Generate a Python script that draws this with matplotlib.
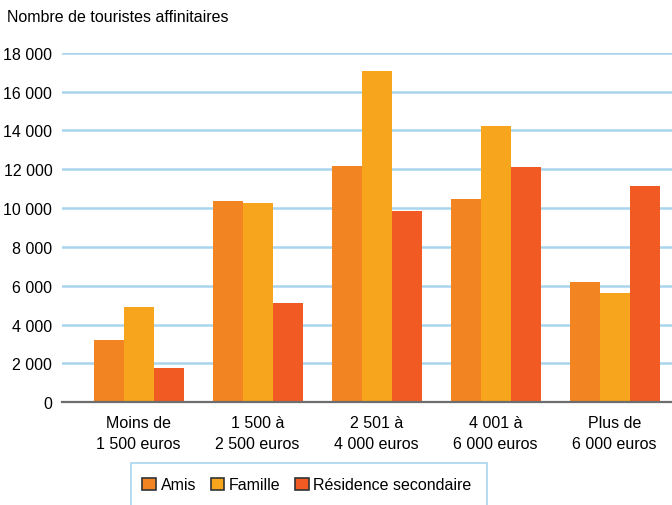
import numpy as np
import matplotlib.pyplot as plt
from matplotlib.patches import Rectangle

# income brackets and tourist counts per accommodation type
categories = ["Moins de\n1 500 euros", "1 500 à\n2 500 euros", "2 501 à\n4 000 euros",
              "4 001 à\n6 000 euros", "Plus de\n6 000 euros"]
amis = [3200, 10370, 12180, 10480, 6200]
famille = [4910, 10270, 17070, 14240, 5630]
residence = [1770, 5120, 9860, 12130, 11150]
series_names = ["Amis", "Famille", "Résidence secondaire"]
colors = ["#f28422", "#f7a51d", "#f15a22"]
yticks = list(range(0, 18001, 2000))

plt.rcParams['font.family'] = ['Liberation Sans', 'DejaVu Sans']
fs = 11.5

W, H = 672, 506
fig = plt.figure(figsize=(W / 100, H / 100), dpi=100)
# axes in pixel units: left 62, right 672, bottom baseline 403, top 18000 at 53.7
ax = fig.add_axes([62 / W, 1 - 403.3 / H, (672 - 62) / W, (403.3 - 53.7) / H])

x = np.arange(len(categories))
w = 0.252
for i, (vals, name, c) in enumerate(zip([amis, famille, residence], series_names, colors)):
    ax.bar(x + (i - 1) * w, vals, width=w, color=c, label=name, zorder=3)

ax.set_ylim(0, 18000)
ax.set_xlim(-0.643, 4.483)
ax.set_yticks(yticks)
ax.set_yticklabels([f"{v:,}".replace(",", " ") for v in yticks], fontsize=fs)
ax.set_xticks(x)
ax.set_xticklabels(categories, fontsize=fs, linespacing=1.5)
ax.tick_params(length=0)
ax.tick_params(axis='y', pad=7)
ax.tick_params(axis='x', pad=9)

for v in yticks[1:]:
    ax.axhline(v, color="#a9d5ef", lw=1.8, zorder=1)
for s in ["top", "right", "left"]:
    ax.spines[s].set_visible(False)
ax.spines["bottom"].set_color("#6d6d6d")
ax.spines["bottom"].set_linewidth(1.6)
ax.spines["bottom"].set_zorder(4)

fig.text(7 / W, 1 - 17 / H, "Nombre de touristes affinitaires", fontsize=fs,
         va="center", ha="left")

# legend box, cut off by the bottom edge
fig.patches.append(Rectangle((131 / W, -0.02), (487 - 131) / W, 0.02 + (506 - 464) / H,
                             transform=fig.transFigure, fill=False,
                             edgecolor="#a9d5ef", lw=1.2))
handles = [Rectangle((0, 0), 1, 1, facecolor=c, edgecolor="#333333", lw=1.2) for c in colors]
fig.legend(handles, series_names, loc="center", bbox_to_anchor=(307 / W, 1 - 486 / H),
           ncol=3, frameon=False, fontsize=fs, handlelength=0.85, handleheight=0.85,
           handletextpad=0.3, columnspacing=0.9)

fig.savefig("out.png", dpi=100)
